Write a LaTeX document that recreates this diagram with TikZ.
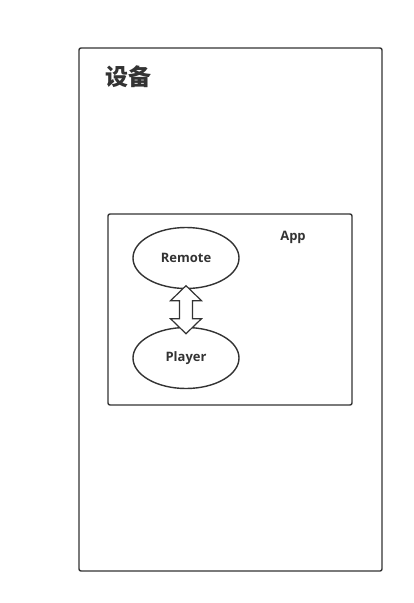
\documentclass[tikz,border=0pt]{standalone}
\usepackage{fontspec}
\setmainfont{Open Sans}
\newfontfamily\cjk{Noto Sans CJK SC}
\usetikzlibrary{shapes.geometric,calc}
\definecolor{ink}{HTML}{333333}
\begin{document}
\begin{tikzpicture}[x=1pt,y=-1pt,
  box/.style={draw=ink,line width=1.4pt,rounded corners=2pt},
  ell/.style={draw=ink,line width=1.4pt,ellipse,minimum width=106pt,minimum height=61pt,inner sep=0pt,font=\fontsize{13}{15}\selectfont\bfseries,text=ink},
  lbl/.style={font=\fontsize{13}{15}\selectfont\bfseries,text=ink,inner sep=0pt}]
\useasboundingbox (0,0) rectangle (413,603);
\draw[box] (79,48) rectangle (382,571);
\node[font=\cjk\fontsize{23}{26}\selectfont\bfseries,text=ink,inner sep=0pt] (dev) at (128,77) {设备};
\draw[box] (108,214) rectangle (352,405);
\node[lbl] (app) at (293,237) {App};
\node[ell] (r) at (186,258) {Remote};
\node[ell] (p) at (186,358) {Player};
\draw[draw=ink,fill=white,line width=1.2pt,line join=miter]
  ($(r.south)+(0,-3.5)$) coordinate (top)
  -- ++(15.5,15) -- ++(-9,0) -- ++(0,18) -- ++(9,0) -- ++(-15.5,15)
  -- ++(-15.5,-15) -- ++(9,0) -- ++(0,-18) -- ++(-9,0) -- cycle;
\end{tikzpicture}
\end{document}
